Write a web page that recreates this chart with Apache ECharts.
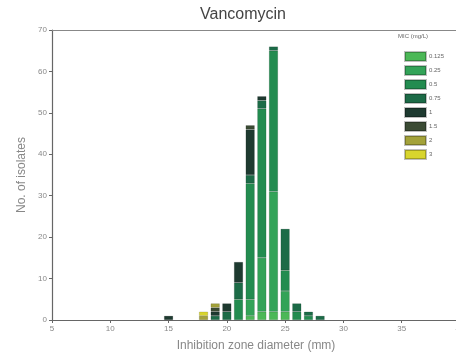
<!DOCTYPE html>
<html>
<head>
<meta charset="utf-8">
<script src="https://cdn.jsdelivr.net/npm/echarts@6/dist/echarts.min.js"></script>
<style>
  html, body { margin: 0; padding: 0; background: #fff; }
  #chart { width: 456px; height: 364px; }
</style>
</head>
<body>
<div id="chart"></div>
<script>
// zone diameters (mm) that have isolates
var diameters = [15, 18, 19, 20, 21, 22, 23, 24, 25, 26, 27, 28];

// isolates per MIC value (mg/L), one entry per diameter
var mic0125 = [0, 0, 0, 0, 0, 1, 2, 2, 2, 0, 0, 0];
var mic025  = [0, 0, 0, 0, 0, 4, 13, 29, 5, 0, 0, 0];
var mic05   = [0, 0, 0, 0, 5, 28, 36, 34, 5, 2, 1, 0];
var mic075  = [0, 0, 1, 2, 4, 2, 2, 1, 10, 2, 1, 1];
var mic1    = [1, 0, 1, 2, 5, 11, 1, 0, 0, 0, 0, 0];
var mic15   = [0, 0, 1, 0, 0, 1, 0, 0, 0, 0, 0, 0];
var mic2    = [0, 1, 1, 0, 0, 0, 0, 0, 0, 0, 0, 0];
var mic3    = [0, 1, 0, 0, 0, 0, 0, 0, 0, 0, 0, 0];

var micLabels = ['0.125', '0.25', '0.5', '0.75', '1', '1.5', '2', '3'];
var micCounts = [mic0125, mic025, mic05, mic075, mic1, mic15, mic2, mic3];
var micColors = ['#4cb857', '#33a358', '#238c50', '#1c6b47', '#1e3a30', '#3b4b34', '#a3a23a', '#d8d52e'];

// x axis runs 5..40 mm, labelled every 5
var xMin = 5, xMax = 40, xStep = 5;
var yTicks = [0, 70, 10];

var xCats = [];
for (var v = xMin; v <= xMax; v++) xCats.push(String(v));

var chart = echarts.init(document.getElementById('chart'));

var series = micLabels.map(function (lab, i) {
  var full = xCats.map(function () { return null; });
  diameters.forEach(function (d, j) {
    if (micCounts[i][j]) full[d - xMin] = micCounts[i][j];
  });
  return {
    name: lab,
    type: 'bar',
    stack: 'mic',
    barWidth: 9,
    itemStyle: { color: micColors[i], borderColor: 'rgba(0,0,0,0.25)', borderWidth: 0.5 },
    data: full
  };
});

var axisGray = '#666';
var option = {
  animation: false,
  title: {
    text: 'Vancomycin',
    left: 238, top: 2, textAlign: 'center',
    textStyle: { fontFamily: 'Liberation Sans', fontSize: 16, fontWeight: 'normal', color: '#444' }
  },
  legend: {
    orient: 'vertical',
    left: 399, top: 46,
    itemWidth: 21, itemHeight: 9, itemGap: 3,
    icon: 'rect',
    textStyle: { fontFamily: 'Liberation Sans', fontSize: 6, color: '#666', padding: [0, 0, 0, -2] },
    data: micLabels
  },
  graphic: [{
    type: 'text', left: 398, top: 33,
    style: { text: 'MIC (mg/L)', fontFamily: 'Liberation Sans', fontSize: 6, fill: '#666' }
  }],
  grid: { left: 52, right: -4, top: 30, bottom: 44, outerBoundsMode: 'none', containLabel: false },
  xAxis: [{
    type: 'category',
    data: xCats,
    boundaryGap: false,
    name: 'Inhibition zone diameter (mm)',
    nameLocation: 'middle', nameGap: 20,
    nameTextStyle: { fontFamily: 'Liberation Sans', fontSize: 12, color: '#888' },
    axisLine: { lineStyle: { color: axisGray, width: 1.2 } },
    axisTick: { show: true, length: 3, interval: xStep - 1, lineStyle: { color: axisGray } },
    axisLabel: { interval: xStep - 1, fontFamily: 'Liberation Sans', fontSize: 8, color: '#888', margin: 5 },
    splitLine: { show: false }
  }, {
    type: 'category', position: 'top', data: xCats, boundaryGap: false,
    axisLine: { show: true, lineStyle: { color: '#888', width: 1.2 } },
    axisTick: { show: false }, axisLabel: { show: false }, splitLine: { show: false }
  }],
  yAxis: {
    type: 'value',
    min: yTicks[0], max: yTicks[1], interval: yTicks[2],
    name: 'No. of isolates',
    nameLocation: 'middle', nameGap: 18,
    nameTextStyle: { fontFamily: 'Liberation Sans', fontSize: 12, color: '#888' },
    axisLine: { show: true, lineStyle: { color: axisGray, width: 1.2 } },
    axisTick: { show: true, length: 3, lineStyle: { color: axisGray } },
    axisLabel: { fontFamily: 'Liberation Sans', fontSize: 8, color: '#888', margin: 5 },
    splitLine: { show: false }
  },
  series: series
};

chart.setOption(option);
</script>
</body>
</html>
